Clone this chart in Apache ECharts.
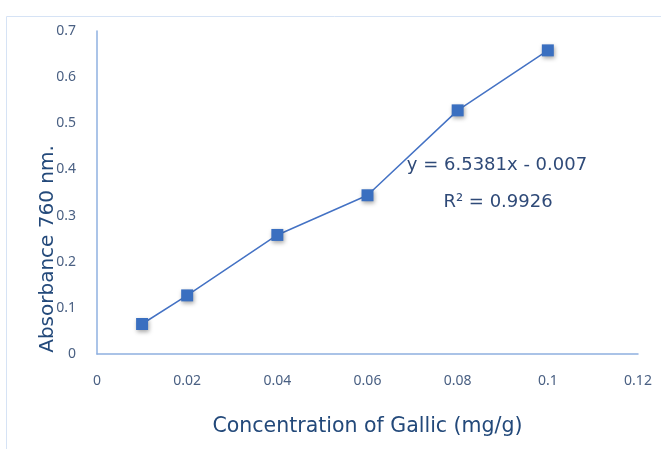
<!DOCTYPE html>
<html><head><meta charset="utf-8">
<script src="https://cdn.jsdelivr.net/npm/echarts@6/dist/echarts.min.js"></script>
<style>html,body{margin:0;padding:0;background:#fff}#c{width:661px;height:449px}</style>
</head><body><div id="c"></div>
<script>
const concentrations = [0.01, 0.02, 0.04, 0.06, 0.08, 0.1];
const absorbance = [0.065, 0.127, 0.258, 0.344, 0.528, 0.658];
const xTitle = 'Concentration of Gallic (mg/g)';
const yTitle = 'Absorbance 760 nm.';
const equationText = 'y = 6.5381x - 0.007';
const r2Text = 'R² = 0.9926';

const chart = echarts.init(document.getElementById('c'));
const font = 'Noto Sans';
chart.setOption({
  animation: false,
  graphic: [
    {type:'rect', shape:{x:6.5,y:16.5,width:700,height:500}, style:{fill:'none', stroke:'#d6e3f5', lineWidth:1}, silent:true},
    {type:'text', x:497, y:165, style:{text:equationText, font:'18px "DejaVu Sans"', fill:'#2f4a78', textAlign:'center', textVerticalAlign:'middle'}},
    {type:'text', x:498, y:202, style:{text:r2Text, font:'18px "DejaVu Sans"', fill:'#2f4a78', textAlign:'center', textVerticalAlign:'middle'}},
    {type:'text', x:48, y:249, rotation:Math.PI/2, style:{text:yTitle, font:'20px "DejaVu Sans"', fill:'#23497a', textAlign:'center', textVerticalAlign:'middle'}}
  ],
  grid: {left:97, top:31, right:23, bottom:95},
  xAxis: {
    type:'value', min:0, max:0.12, interval:0.02,
    axisLine:{show:true, lineStyle:{color:'#8fb0e0', width:1.5}},
    axisTick:{show:false}, splitLine:{show:false},
    axisLabel:{color:'#4a6083', fontFamily:font, fontSize:14, margin:20},
    name: xTitle, nameLocation:'middle', nameGap:62,
    nameTextStyle:{color:'#23497a', fontFamily:'DejaVu Sans', fontSize:20.5}
  },
  yAxis: {
    type:'value', min:0, max:0.7, interval:0.1,
    axisLine:{show:true, lineStyle:{color:'#8fb0e0', width:1.5}},
    axisTick:{show:false}, splitLine:{show:false},
    axisLabel:{color:'#4a6083', fontFamily:font, fontSize:14, margin:21}
  },
  series: [{
    type:'line',
    data: concentrations.map((x,i)=>[x, absorbance[i]]),
    symbol:'rect', symbolSize:12,
    lineStyle:{color:'#4472c4', width:1.5},
    itemStyle:{color:'#3a6fc0', shadowColor:'rgba(0,0,0,0.35)', shadowBlur:4, shadowOffsetX:1, shadowOffsetY:2}
  }]
});
</script></body></html>
